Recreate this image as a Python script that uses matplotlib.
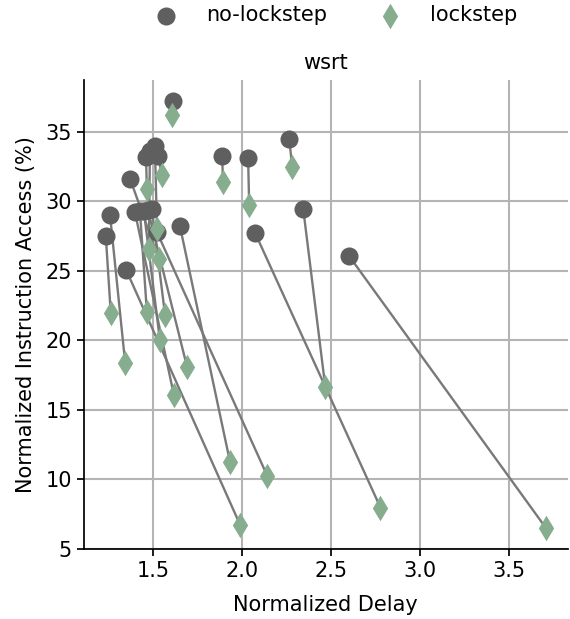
import numpy as np
import matplotlib
matplotlib.use('Agg')
import matplotlib.pyplot as plt

# normalized delay / instruction access, one entry per benchmark run
delay_nols = [1.613, 1.889, 2.035, 2.266, 2.345, 2.075, 2.604, 1.652, 1.523, 1.350, 1.259,
              1.235, 1.511, 1.461, 1.528, 1.483, 1.372, 1.399, 1.449, 1.494, 1.472, 1.427]
access_nols = [37.18, 33.25, 33.10, 34.47, 29.42, 27.69, 26.03, 28.19, 27.76, 25.04, 28.99,
               27.49, 33.97, 33.17, 33.25, 33.60, 31.58, 29.20, 29.27, 29.42, 29.35, 29.27]
delay_ls = [1.607, 1.894, 2.041, 2.283, 2.469, 2.779, 3.708, 1.934, 2.142, 1.990, 1.344,
            1.263, 1.523, 1.466, 1.551, 1.477, 1.534, 1.618, 1.539, 1.568, 1.692, 1.466]
access_ls = [36.21, 31.37, 29.71, 32.45, 16.64, 7.98, 6.53, 11.22, 10.28, 6.74, 18.37,
             21.96, 27.97, 30.86, 31.87, 26.53, 25.81, 16.06, 20.03, 21.84, 18.08, 22.06]

xticks = [1.5, 2.0, 2.5, 3.0, 3.5]
yticks = [5, 10, 15, 20, 25, 30, 35]

plt.rcParams['font.family'] = ['DejaVu Sans']
plt.rcParams['font.size'] = 15

fig = plt.figure(figsize=(5.7, 6.19), dpi=100)
ax = fig.add_axes([0.147, 0.113, 0.849, 0.758])

# connecting lines
for x0, y0, x1, y1 in zip(delay_nols, access_nols, delay_ls, access_ls):
    ax.plot([x0, x1], [y0, y1], color='#797979', lw=1.7, zorder=2)

ax.scatter(delay_nols, access_nols, s=169, marker='o', color='#5f5f5f',
           linewidths=0, zorder=3, label='no-lockstep')
ax.scatter(delay_ls, access_ls, s=169, marker='d', color='#86ad8e',
           linewidths=0, zorder=4, label='lockstep')

ax.set_xticks(xticks)
ax.set_yticks(yticks)
ax.margins(0.05)
ax.grid(True, color='#b4b4b4', lw=1.5)
ax.set_axisbelow(True)
for s in ['top', 'right']:
    ax.spines[s].set_visible(False)
for s in ['left', 'bottom']:
    ax.spines[s].set_linewidth(1.25)
ax.tick_params(labelsize=15, length=5, width=1.25)

ax.set_xlabel('Normalized Delay', fontsize=15, labelpad=10)
ax.set_ylabel('Normalized Instruction Access (%)', fontsize=15, labelpad=7)
ax.set_title('wsrt', fontsize=15, pad=8)

fig.legend(loc='center', bbox_to_anchor=(0.581, 0.975), ncol=2, frameon=False,
           fontsize=15, handletextpad=0.95, columnspacing=2.0)

fig.savefig('out.png', dpi=100)
